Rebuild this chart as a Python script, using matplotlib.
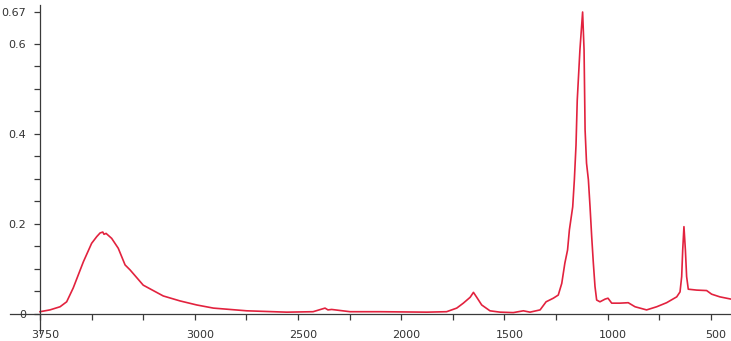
import matplotlib
matplotlib.use("Agg")
import matplotlib.pyplot as plt
import matplotlib.transforms as mtransforms

# IR absorbance spectrum (wavenumber in cm^-1, absorbance)
wavenumber = [3750, 3702, 3653, 3621, 3589, 3540, 3500, 3475, 3459, 3446, 3440, 3430,
              3403, 3371, 3338, 3314, 3250, 3153, 3072, 2991, 2910, 2749, 2555, 2427,
              2369, 2355, 2337, 2248, 2103, 1876, 1780, 1731, 1699, 1666, 1650, 1634,
              1610, 1570, 1521, 1457, 1408, 1376, 1327, 1298, 1263, 1239, 1222, 1207,
              1194, 1185, 1169, 1161, 1153, 1147, 1134, 1121, 1114, 1109, 1102, 1093,
              1085, 1077, 1069, 1061, 1053, 1037, 1012, 998, 980, 940, 900, 867, 843,
              811, 762, 714, 665, 649, 641, 636, 630, 623, 617, 609, 568, 520, 496,
              456, 402]
absorbance = [0.004, 0.008, 0.015, 0.026, 0.057, 0.115, 0.156, 0.171, 0.179, 0.181, 0.176, 0.178,
              0.167, 0.145, 0.108, 0.097, 0.063, 0.039, 0.028, 0.019, 0.012, 0.006, 0.003, 0.004,
              0.012, 0.008, 0.009, 0.004, 0.004, 0.003, 0.004, 0.012, 0.023, 0.036, 0.047, 0.036,
              0.019, 0.006, 0.003, 0.002, 0.006, 0.003, 0.008, 0.026, 0.034, 0.041, 0.067, 0.112,
              0.141, 0.186, 0.237, 0.297, 0.374, 0.474, 0.586, 0.670, 0.586, 0.408, 0.334, 0.297,
              0.237, 0.171, 0.112, 0.060, 0.030, 0.026, 0.032, 0.034, 0.023, 0.023, 0.024, 0.015, 0.012,
              0.008, 0.015, 0.024, 0.037, 0.048, 0.082, 0.141, 0.193, 0.141, 0.082, 0.054, 0.052, 0.051, 0.043,
              0.037, 0.032]

x_major = [3750, 3000, 2500, 2000, 1500, 1000, 500]
x_labels = ["3750", "3000", "2500", "2000", "1500", "1000", "500"]
x_minor = [3500, 3250, 2750, 2250, 1750, 1250, 750]
y_major = [0, 0.2, 0.4, 0.6, 0.67]
y_labels = ["0", "0.2", "0.4", "0.6", "0.67"]
y_minor = [0.05, 0.1, 0.15, 0.25, 0.3, 0.35, 0.45, 0.5, 0.55]

line_color = "#e2223e"
axis_color = "#3a3a3a"

fig = plt.figure(figsize=(7.31, 3.41), dpi=100)
ax = fig.add_axes([0, 0, 1, 1])
ax.plot(wavenumber, absorbance, color=line_color, lw=1.2, solid_joinstyle="round")

ax.set_xlim(3944, 402)
ax.set_ylim(-0.0611, 0.6967)

for side in ("top", "right"):
    ax.spines[side].set_visible(False)
ax.spines["left"].set_position(("data", 3750))
ax.spines["left"].set_bounds(-0.043, 0.686)
ax.spines["bottom"].set_position(("data", 0))
ax.spines["bottom"].set_bounds(3895, 402)
for side in ("left", "bottom"):
    ax.spines[side].set_color(axis_color)
    ax.spines[side].set_linewidth(0.9)

ax.set_xticks(x_major)
ax.set_xticklabels(x_labels)
ax.set_xticks(x_minor, minor=True)
ax.set_yticks(y_major)
ax.set_yticklabels(y_labels)
ax.set_yticks(y_minor, minor=True)

ax.tick_params(axis="both", which="both", direction="out", length=4, width=0.9,
               color=axis_color, labelcolor="#333333", labelsize=8)
ax.tick_params(axis="x", which="major", pad=8)
ax.tick_params(axis="y", which="major", pad=6)

shift = mtransforms.ScaledTranslation(5 / 100, 0, fig.dpi_scale_trans)
for lab in ax.get_xticklabels():
    lab.set_transform(lab.get_transform() + shift)

fig.savefig("out.png", dpi=100, facecolor="white")
